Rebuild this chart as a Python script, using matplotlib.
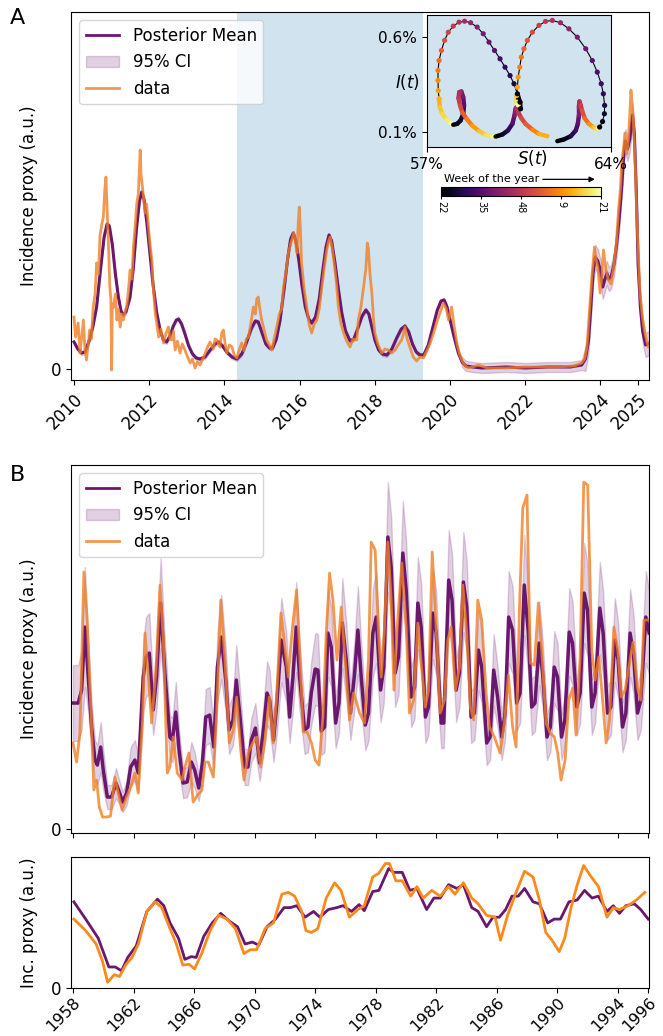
import numpy as np
import matplotlib
matplotlib.use('Agg')
import matplotlib.pyplot as plt
from matplotlib.collections import LineCollection
from matplotlib.lines import Line2D
from matplotlib.colors import Normalize
from matplotlib.cm import ScalarMappable

# ---------------- Panel A (2010-2025), (year, value a.u.) ----------------
mean_a = [
    (2010.0, 0.27), (2010.1, 0.20), (2010.2, 0.16), (2010.29, 0.17), (2010.4, 0.28), (2010.5, 0.42),
    (2010.6, 0.62), (2010.7, 0.98), (2010.8, 1.32), (2010.88, 1.45), (2010.94, 1.43), (2011.02, 1.24),
    (2011.1, 0.95), (2011.18, 0.72), (2011.25, 0.58), (2011.31, 0.54), (2011.38, 0.57), (2011.49, 0.72),
    (2011.58, 1.02), (2011.66, 1.40), (2011.74, 1.68), (2011.80, 1.77), (2011.86, 1.70), (2011.94, 1.45),
    (2012.02, 1.15), (2012.1, 0.85), (2012.2, 0.56), (2012.3, 0.37), (2012.38, 0.29), (2012.46, 0.27),
    (2012.55, 0.33), (2012.64, 0.43), (2012.72, 0.49), (2012.78, 0.50), (2012.86, 0.45), (2012.95, 0.35),
    (2013.05, 0.23), (2013.15, 0.15), (2013.25, 0.11), (2013.35, 0.10), (2013.48, 0.12), (2013.62, 0.19),
    (2013.75, 0.25), (2013.84, 0.27), (2013.95, 0.23), (2014.06, 0.17), (2014.2, 0.12), (2014.33, 0.10),
    (2014.46, 0.15), (2014.59, 0.27), (2014.72, 0.41), (2014.82, 0.48), (2014.9, 0.47), (2015.0, 0.36),
    (2015.1, 0.25), (2015.2, 0.21), (2015.28, 0.21), (2015.38, 0.30), (2015.48, 0.49), (2015.58, 0.78),
    (2015.68, 1.10), (2015.76, 1.30), (2015.83, 1.36), (2015.9, 1.28), (2015.98, 1.08), (2016.06, 0.84),
    (2016.15, 0.62), (2016.24, 0.50), (2016.32, 0.46), (2016.42, 0.52), (2016.52, 0.70), (2016.62, 1.00),
    (2016.7, 1.22), (2016.78, 1.34), (2016.85, 1.28), (2016.94, 1.06), (2017.03, 0.80), (2017.12, 0.56),
    (2017.22, 0.38), (2017.34, 0.28), (2017.44, 0.30), (2017.56, 0.42), (2017.66, 0.53), (2017.76, 0.59),
    (2017.84, 0.55), (2017.92, 0.42), (2018.0, 0.29), (2018.1, 0.19), (2018.2, 0.15), (2018.32, 0.14),
    (2018.45, 0.20), (2018.58, 0.31), (2018.7, 0.40), (2018.8, 0.43), (2018.9, 0.37), (2019.0, 0.25),
    (2019.1, 0.17), (2019.2, 0.14), (2019.3, 0.14), (2019.42, 0.24), (2019.55, 0.43), (2019.66, 0.59),
    (2019.76, 0.68), (2019.84, 0.69), (2019.92, 0.62), (2020.0, 0.49), (2020.1, 0.33), (2020.22, 0.16),
    (2020.32, 0.07), (2020.42, 0.03), (2020.6, 0.02), (2020.84, 0.01), (2021.5, 0.02), (2022.0, 0.01),
    (2022.6, 0.02), (2023.2, 0.02), (2023.5, 0.04), (2023.6, 0.10), (2023.68, 0.28), (2023.74, 0.60),
    (2023.8, 0.95), (2023.86, 1.12), (2023.93, 1.08), (2024.0, 0.98), (2024.06, 0.82), (2024.12, 0.90),
    (2024.17, 0.96), (2024.22, 0.90), (2024.28, 0.92), (2024.36, 1.05), (2024.43, 1.25), (2024.5, 1.52),
    (2024.56, 1.80), (2024.62, 2.15), (2024.66, 2.28), (2024.72, 2.20), (2024.78, 2.30), (2024.85, 2.54),
    (2024.9, 2.35), (2024.95, 1.80), (2025.0, 1.05), (2025.06, 0.62), (2025.12, 0.38), (2025.2, 0.24),
    (2025.3, 0.26),
]
data_a = [
    (2010.0, 0.52), (2010.04, 0.32), (2010.08, 0.40), (2010.11, 0.46), (2010.16, 0.16), (2010.2, 0.30),
    (2010.25, 0.49), (2010.29, 0.20), (2010.33, 0.09), (2010.38, 0.25), (2010.42, 0.39), (2010.46, 0.30),
    (2010.51, 0.62), (2010.56, 0.75), (2010.6, 1.06), (2010.65, 0.95), (2010.69, 1.33), (2010.74, 1.45),
    (2010.78, 1.52), (2010.82, 1.80), (2010.85, 1.92), (2010.88, 1.60), (2010.9, 1.39), (2010.93, 1.10),
    (2010.95, 0.83), (2010.98, 0.70), (2011.0, -0.01), (2011.02, 0.65), (2011.05, 0.62), (2011.1, 0.75),
    (2011.14, 0.49), (2011.18, 0.60), (2011.23, 0.42), (2011.27, 0.55), (2011.31, 0.49), (2011.36, 0.58),
    (2011.4, 0.62), (2011.45, 0.80), (2011.49, 0.99), (2011.54, 0.90), (2011.58, 1.22), (2011.62, 1.40),
    (2011.67, 1.66), (2011.71, 1.75), (2011.76, 2.19), (2011.78, 1.95), (2011.8, 1.89), (2011.84, 1.75),
    (2011.89, 1.56), (2011.93, 1.65), (2011.98, 1.42), (2012.02, 1.25), (2012.07, 1.09), (2012.11, 0.80),
    (2012.16, 0.56), (2012.2, 0.45), (2012.25, 0.32), (2012.31, 0.40), (2012.38, 0.26), (2012.44, 0.35),
    (2012.51, 0.42), (2012.55, 0.30), (2012.6, 0.29), (2012.64, 0.38), (2012.69, 0.19), (2012.75, 0.28),
    (2012.82, 0.16), (2012.88, 0.25), (2012.95, 0.19), (2013.02, 0.12), (2013.09, 0.06), (2013.15, 0.10),
    (2013.22, 0.01), (2013.28, 0.07), (2013.35, 0.04), (2013.42, 0.10), (2013.49, 0.16), (2013.55, 0.22),
    (2013.62, 0.27), (2013.7, 0.20), (2013.75, 0.30), (2013.8, 0.29), (2013.88, 0.22), (2013.93, 0.36),
    (2013.97, 0.39), (2014.02, 0.25), (2014.06, 0.16), (2014.13, 0.24), (2014.2, 0.22), (2014.26, 0.14),
    (2014.33, 0.11), (2014.4, 0.20), (2014.46, 0.26), (2014.52, 0.18), (2014.58, 0.30), (2014.64, 0.32),
    (2014.7, 0.45), (2014.77, 0.62), (2014.82, 0.55), (2014.86, 0.70), (2014.9, 0.72), (2014.95, 0.58),
    (2014.99, 0.49), (2015.05, 0.40), (2015.12, 0.29), (2015.18, 0.25), (2015.26, 0.19), (2015.32, 0.30),
    (2015.39, 0.42), (2015.46, 0.55), (2015.52, 0.60), (2015.57, 0.82), (2015.63, 0.95), (2015.7, 1.16),
    (2015.76, 1.25), (2015.84, 1.36), (2015.88, 1.30), (2015.93, 1.16), (2015.96, 1.45), (2015.99, 1.62),
    (2016.02, 1.40), (2016.05, 1.06), (2016.12, 0.80), (2016.19, 0.62), (2016.25, 0.45), (2016.32, 0.36),
    (2016.39, 0.45), (2016.46, 0.49), (2016.52, 0.60), (2016.59, 0.82), (2016.65, 1.00), (2016.72, 1.19),
    (2016.77, 1.28), (2016.81, 1.32), (2016.87, 1.20), (2016.94, 0.99), (2016.98, 0.85), (2017.03, 0.62),
    (2017.1, 0.45), (2017.17, 0.36), (2017.25, 0.28), (2017.34, 0.22), (2017.42, 0.30), (2017.52, 0.29),
    (2017.56, 0.49), (2017.63, 0.62), (2017.7, 0.82), (2017.76, 1.00), (2017.8, 1.26), (2017.83, 1.20),
    (2017.87, 0.95), (2017.92, 0.76), (2017.96, 0.52), (2018.0, 0.36), (2018.08, 0.25), (2018.18, 0.16),
    (2018.27, 0.20), (2018.36, 0.19), (2018.45, 0.16), (2018.54, 0.19), (2018.62, 0.24), (2018.71, 0.29),
    (2018.76, 0.35), (2018.8, 0.42), (2018.86, 0.30), (2018.93, 0.22), (2019.02, 0.12), (2019.11, 0.08),
    (2019.2, 0.12), (2019.29, 0.11), (2019.38, 0.18), (2019.47, 0.26), (2019.56, 0.36), (2019.64, 0.46),
    (2019.72, 0.55), (2019.82, 0.66), (2019.9, 0.60), (2019.96, 0.49), (2020.0, 0.55), (2020.04, 0.62),
    (2020.1, 0.45), (2020.18, 0.26), (2020.25, 0.15), (2020.31, 0.09), (2020.4, 0.03), (2020.49, 0.01),
    (2020.76, 0.04), (2021.0, 0.01), (2021.47, 0.01), (2022.0, 0.02), (2022.8, 0.02), (2023.3, 0.03),
    (2023.5, 0.06), (2023.58, 0.10), (2023.64, 0.22), (2023.7, 0.55), (2023.77, 0.92), (2023.84, 1.22),
    (2023.88, 1.10), (2023.93, 1.02), (2023.99, 0.76), (2024.04, 0.95), (2024.08, 1.19), (2024.14, 1.00),
    (2024.21, 0.89), (2024.28, 0.85), (2024.35, 1.02), (2024.42, 1.25), (2024.48, 1.59), (2024.53, 1.80),
    (2024.57, 2.09), (2024.61, 2.20), (2024.65, 2.36), (2024.7, 2.15), (2024.74, 2.29), (2024.78, 2.55),
    (2024.81, 2.79), (2024.85, 2.60), (2024.88, 2.42), (2024.92, 2.10), (2024.96, 1.59), (2025.0, 1.20),
    (2025.05, 0.76), (2025.12, 0.50), (2025.18, 0.36), (2025.27, 0.22), (2025.3, 0.25),
]
# 95% CI half width, per period (period end year, half width)
ci_a_periods = [(2020.3, 0.02), (2023.55, 0.05), (2026.0, 0.12)]
shaded_a = (2014.33, 2019.28)
years_a = [2010, 2012, 2014, 2016, 2018, 2020, 2022, 2024, 2025]

# ---------------- inset: (S %, I %, week of year) ----------------
traj_b = [
    (61.96, 0.051, 22), (62.21, 0.060, 25), (62.47, 0.077, 29), (62.66, 0.107, 33), (62.74, 0.142, 36),
    (62.78, 0.186, 40), (62.78, 0.230, 44), (62.80, 0.260, 47), (62.85, 0.239, 50), (62.90, 0.212, 1),
    (63.00, 0.172, 5), (63.16, 0.142, 10), (63.33, 0.125, 15), (63.45, 0.116, 19), (63.53, 0.118, 21),
]
loop_r = [
    (63.57, 0.125, 22), (63.68, 0.154, 24), (63.75, 0.195, 26), (63.76, 0.239, 28), (63.71, 0.300, 30),
    (63.63, 0.353, 32), (63.48, 0.414, 34), (63.29, 0.475, 36), (63.04, 0.537, 38), (62.72, 0.598, 40),
    (62.40, 0.642, 42), (62.08, 0.674, 44), (61.77, 0.686, 46), (61.51, 0.681, 48), (61.26, 0.660, 50),
    (61.01, 0.624, 52), (60.82, 0.581, 2), (60.69, 0.537, 4), (60.59, 0.493, 6), (60.53, 0.440, 8),
    (60.47, 0.388, 10), (60.44, 0.335, 12), (60.41, 0.291, 15), (60.42, 0.256, 18), (60.47, 0.242, 21),
]
loop_l = [
    (60.56, 0.221, 22), (60.54, 0.256, 23), (60.44, 0.300, 25), (60.31, 0.353, 27), (60.16, 0.396, 29),
    (59.97, 0.440, 31), (59.78, 0.484, 33), (59.57, 0.528, 35), (59.36, 0.572, 37), (59.14, 0.616, 39),
    (58.91, 0.651, 41), (58.66, 0.674, 43), (58.43, 0.682, 45), (58.22, 0.677, 47), (58.00, 0.656, 49),
    (57.81, 0.624, 51), (57.67, 0.581, 1), (57.55, 0.528, 3), (57.46, 0.475, 5), (57.42, 0.423, 7),
    (57.42, 0.370, 9), (57.43, 0.317, 11), (57.46, 0.274, 13), (57.49, 0.230, 15), (57.58, 0.195, 17),
    (57.75, 0.165, 19), (57.90, 0.146, 21),
]
traj_a = [
    (58.00, 0.137, 22), (58.15, 0.142, 24), (58.28, 0.160, 27), (58.38, 0.195, 31), (58.41, 0.239, 35),
    (58.38, 0.282, 39), (58.31, 0.312, 43), (58.23, 0.309, 46), (58.20, 0.277, 49), (58.26, 0.239, 52),
    (58.34, 0.203, 3), (58.51, 0.168, 7), (58.72, 0.133, 11), (58.98, 0.104, 15), (59.23, 0.084, 18),
    (59.49, 0.077, 21), (59.61, 0.075, 22), (59.87, 0.086, 26), (60.08, 0.107, 30), (60.25, 0.142, 35),
    (60.33, 0.186, 40), (60.37, 0.221, 44), (60.41, 0.230, 46), (60.47, 0.203, 49), (60.59, 0.172, 52),
    (60.75, 0.142, 3), (61.01, 0.112, 8), (61.26, 0.089, 13), (61.58, 0.077, 19),
]
week_start = 22
cbar_ticks = [0, 13, 26, 39, 52]
cbar_labels = ['22', '35', '48', '9', '21']

# ---------------- Panel B (1958-1996), (year, mean, CI half width) ----------------
mean_b = [
    (1958.0, 1.26, 0.38), (1958.35, 1.26, 0.38), (1958.57, 1.39, 0.40), (1958.79, 2.02, 0.60),
    (1959.01, 1.52, 0.35), (1959.23, 1.02, 0.25), (1959.45, 0.69, 0.20), (1959.61, 0.64, 0.20),
    (1959.83, 0.82, 0.25), (1960.0, 0.59, 0.20), (1960.27, 0.32, 0.12), (1960.55, 0.32, 0.12),
    (1960.84, 0.46, 0.15), (1961.06, 0.37, 0.12), (1961.28, 0.27, 0.10), (1961.54, 0.36, 0.12),
    (1961.81, 0.62, 0.20), (1962.09, 0.69, 0.20), (1962.31, 0.56, 0.18), (1962.64, 1.52, 0.35),
    (1962.82, 1.72, 0.40), (1963.04, 1.76, 0.40), (1963.3, 1.19, 0.25), (1963.52, 1.52, 0.32),
    (1963.79, 2.26, 0.45), (1964.07, 1.56, 0.32), (1964.4, 0.92, 0.22), (1964.57, 0.89, 0.22),
    (1964.79, 1.17, 0.30), (1965.01, 0.79, 0.20), (1965.27, 0.46, 0.15), (1965.54, 0.47, 0.15),
    (1965.82, 0.67, 0.20), (1966.04, 0.59, 0.18), (1966.31, 0.41, 0.13), (1966.55, 0.66, 0.18),
    (1966.77, 1.12, 0.28), (1967.03, 1.14, 0.28), (1967.3, 0.82, 0.22), (1967.54, 1.62, 0.35),
    (1967.8, 1.92, 0.42), (1968.09, 1.49, 0.32), (1968.31, 0.99, 0.24), (1968.57, 1.09, 0.25),
    (1968.79, 1.49, 0.35), (1969.01, 1.16, 0.28), (1969.34, 0.62, 0.18), (1969.56, 0.62, 0.18),
    (1969.78, 0.89, 0.22), (1970.05, 1.01, 0.25), (1970.33, 0.66, 0.18), (1970.6, 1.02, 0.25),
    (1970.82, 1.36, 0.32), (1970.99, 1.29, 0.30), (1971.25, 0.89, 0.22), (1971.47, 1.26, 0.30),
    (1971.76, 1.89, 0.42), (1972.09, 1.62, 0.35), (1972.31, 1.12, 0.26), (1972.53, 1.52, 0.34),
    (1972.75, 2.02, 0.45), (1972.97, 1.52, 0.34), (1973.3, 0.99, 0.24), (1973.52, 1.02, 0.25),
    (1973.74, 1.36, 0.32), (1974.0, 1.60, 0.36), (1974.18, 1.59, 0.36), (1974.4, 0.98, 0.24),
    (1974.62, 1.02, 0.25), (1974.84, 1.96, 0.44), (1975.06, 1.82, 0.40), (1975.35, 1.06, 0.25),
    (1975.57, 1.26, 0.30), (1975.79, 2.06, 0.45), (1976.05, 1.69, 0.38), (1976.33, 1.16, 0.27),
    (1976.6, 1.55, 0.34), (1976.82, 1.99, 0.44), (1977.04, 1.52, 0.34), (1977.31, 1.04, 0.25),
    (1977.52, 1.16, 0.28), (1977.81, 1.96, 0.44), (1978.03, 2.12, 0.46), (1978.32, 1.39, 0.32),
    (1978.53, 1.62, 0.36), (1978.8, 2.92, 0.55), (1979.02, 2.62, 0.50), (1979.28, 1.56, 0.34),
    (1979.5, 1.72, 0.38), (1979.79, 2.76, 0.52), (1980.01, 2.39, 0.48), (1980.34, 1.32, 0.30),
    (1980.56, 1.42, 0.32), (1980.78, 2.26, 0.46), (1981.0, 2.02, 0.44), (1981.28, 1.12, 0.26),
    (1981.48, 1.22, 0.28), (1981.77, 2.16, 0.46), (1981.99, 1.96, 0.42), (1982.32, 1.06, 0.25),
    (1982.49, 1.06, 0.25), (1982.82, 2.49, 0.50), (1983.04, 2.29, 0.46), (1983.31, 1.39, 0.32),
    (1983.53, 1.56, 0.34), (1983.79, 2.47, 0.50), (1984.01, 2.22, 0.46), (1984.3, 1.12, 0.26),
    (1984.52, 1.16, 0.27), (1984.78, 1.79, 0.40), (1985.0, 1.62, 0.36), (1985.33, 0.86, 0.22),
    (1985.55, 0.92, 0.23), (1985.79, 1.59, 0.36), (1986.05, 1.32, 0.30), (1986.32, 0.92, 0.23),
    (1986.54, 1.16, 0.27), (1986.78, 2.12, 0.46), (1987.04, 1.99, 0.44), (1987.31, 1.26, 0.28),
    (1987.53, 1.36, 0.30), (1987.81, 2.44, 0.50), (1988.08, 1.96, 0.42), (1988.3, 1.22, 0.28),
    (1988.52, 1.26, 0.28), (1988.8, 1.86, 0.42), (1989.02, 1.56, 0.34), (1989.31, 0.92, 0.23),
    (1989.53, 1.02, 0.25), (1989.79, 1.62, 0.36), (1990.01, 1.52, 0.34), (1990.27, 0.92, 0.23),
    (1990.49, 1.09, 0.26), (1990.78, 1.97, 0.44), (1991.0, 1.86, 0.42), (1991.28, 1.22, 0.28),
    (1991.5, 1.36, 0.30), (1991.77, 2.36, 0.50), (1991.99, 2.19, 0.46), (1992.27, 1.22, 0.28),
    (1992.49, 1.36, 0.30), (1992.8, 2.21, 0.46), (1993.02, 1.96, 0.42), (1993.31, 1.16, 0.27),
    (1993.53, 1.22, 0.28), (1993.79, 1.89, 0.42), (1994.01, 1.69, 0.38), (1994.3, 1.02, 0.25),
    (1994.52, 1.16, 0.27), (1994.8, 1.96, 0.44), (1995.02, 1.76, 0.40), (1995.29, 1.16, 0.27),
    (1995.51, 1.29, 0.30), (1995.84, 2.12, 0.46), (1996.06, 1.96, 0.42),
]
data_b = [
    (1958.0, 0.86), (1958.24, 0.67), (1958.46, 0.96), (1958.72, 2.57), (1958.94, 2.09), (1959.16, 1.29),
    (1959.38, 0.39), (1959.56, 0.49), (1959.74, 0.22), (1959.96, 0.12), (1960.22, 0.12), (1960.48, 0.13),
    (1960.77, 0.52), (1960.99, 0.36), (1961.25, 0.19), (1961.54, 0.32), (1961.81, 0.42), (1962.09, 0.56),
    (1962.31, 0.36), (1962.6, 1.09), (1962.76, 1.96), (1962.98, 1.52), (1963.2, 1.06), (1963.48, 1.59),
    (1963.75, 2.44), (1963.97, 1.89), (1964.23, 0.56), (1964.4, 0.62), (1964.62, 0.92), (1964.89, 0.56),
    (1965.22, 0.49), (1965.39, 0.62), (1965.66, 0.76), (1965.94, 0.27), (1966.23, 0.34), (1966.52, 0.39),
    (1966.72, 0.67), (1966.94, 0.67), (1967.27, 0.52), (1967.49, 1.16), (1967.76, 2.29), (1968.04, 1.69),
    (1968.33, 0.86), (1968.59, 0.99), (1968.81, 1.32), (1969.08, 0.79), (1969.3, 0.49), (1969.58, 0.76),
    (1969.87, 0.86), (1970.13, 0.92), (1970.4, 0.62), (1970.68, 0.89), (1970.97, 1.32), (1971.23, 0.86),
    (1971.45, 1.32), (1971.74, 2.16), (1972.0, 1.82), (1972.22, 1.52), (1972.5, 2.02), (1972.77, 2.39),
    (1972.99, 1.72), (1973.21, 0.97), (1973.47, 0.97), (1973.76, 0.86), (1974.0, 0.69), (1974.25, 0.64),
    (1974.51, 1.12), (1974.73, 1.96), (1974.95, 2.56), (1975.17, 2.29), (1975.44, 1.69), (1975.72, 2.22),
    (1976.01, 1.62), (1976.27, 1.09), (1976.53, 1.36), (1976.75, 1.26), (1976.93, 1.16), (1977.26, 1.06),
    (1977.52, 1.69), (1977.7, 2.87), (1977.96, 2.79), (1978.18, 1.96), (1978.36, 1.52), (1978.58, 2.02),
    (1978.8, 2.87), (1979.02, 2.29), (1979.2, 1.39), (1979.42, 2.02), (1979.72, 2.66), (1980.01, 2.02),
    (1980.23, 1.16), (1980.51, 1.29), (1980.78, 2.06), (1981.0, 1.66), (1981.27, 1.22), (1981.49, 1.39),
    (1981.73, 2.77), (1981.99, 2.02), (1982.25, 1.16), (1982.54, 1.29), (1982.76, 1.89), (1982.98, 2.02),
    (1983.26, 1.39), (1983.53, 1.62), (1983.75, 2.44), (1984.01, 1.96), (1984.25, 1.22), (1984.47, 1.09),
    (1984.74, 2.29), (1985.0, 2.09), (1985.29, 1.36), (1985.51, 1.02), (1985.84, 0.92), (1986.21, 0.76),
    (1986.5, 1.06), (1986.76, 1.54), (1987.04, 1.02), (1987.27, 0.82), (1987.49, 2.19), (1987.71, 3.21),
    (1987.99, 3.34), (1988.21, 1.66), (1988.48, 1.64), (1988.74, 2.26), (1988.96, 1.79), (1989.25, 1.06),
    (1989.53, 0.96), (1989.8, 0.92), (1990.02, 0.76), (1990.24, 0.49), (1990.51, 0.69), (1990.75, 1.29),
    (1991.01, 1.41), (1991.23, 0.94), (1991.5, 1.72), (1991.74, 3.47), (1992.0, 3.44), (1992.27, 1.79),
    (1992.49, 1.49), (1992.73, 1.72), (1992.95, 1.36), (1993.22, 0.86), (1993.44, 1.09), (1993.73, 2.02),
    (1993.99, 1.79), (1994.21, 1.32), (1994.47, 1.39), (1994.76, 1.66), (1995.0, 1.87), (1995.28, 1.42),
    (1995.5, 1.29), (1995.72, 2.09), (1995.99, 2.09),
]

# ---------------- bottom panel: smoothed incidence proxy ----------------
smooth_mean = [
    (1958.06, 2.25), (1958.84, 1.80), (1959.67, 1.30), (1960.37, 0.55), (1960.79, 0.55), (1961.21, 0.45),
    (1961.62, 0.80), (1962.18, 1.10), (1962.88, 2.00), (1963.58, 2.32), (1964.0, 2.15), (1964.41, 1.70),
    (1964.97, 1.30), (1965.39, 0.75), (1965.81, 0.82), (1966.14, 0.80), (1966.64, 1.35), (1967.2, 1.70),
    (1967.76, 1.95), (1968.32, 1.75), (1968.87, 1.60), (1969.37, 1.15), (1969.85, 1.20), (1970.27, 1.12),
    (1970.82, 1.60), (1971.38, 1.80), (1971.94, 2.10), (1972.36, 2.10), (1972.78, 2.15), (1973.33, 1.85),
    (1973.89, 2.00), (1974.31, 1.85), (1974.87, 2.05), (1975.42, 2.10), (1975.84, 2.15), (1976.4, 2.00),
    (1976.9, 2.18), (1977.24, 2.02), (1977.8, 2.52), (1978.21, 2.55), (1978.85, 3.12), (1979.19, 3.02),
    (1979.75, 3.02), (1980.25, 2.55), (1980.72, 2.60), (1981.36, 2.05), (1981.84, 2.35), (1982.25, 2.35),
    (1982.81, 2.70), (1983.37, 2.60), (1983.79, 2.70), (1984.34, 2.10), (1984.76, 2.00), (1985.32, 1.60),
    (1985.74, 1.85), (1986.16, 1.85), (1986.58, 2.05), (1987.0, 2.40), (1987.41, 2.40), (1987.83, 2.60),
    (1988.39, 2.25), (1988.81, 2.20), (1989.36, 1.70), (1989.78, 1.80), (1990.2, 1.80), (1990.76, 2.25),
    (1991.31, 2.30), (1991.79, 2.55), (1992.29, 2.35), (1992.71, 2.40), (1993.27, 2.00), (1993.69, 2.15),
    (1994.1, 1.95), (1994.52, 2.15), (1995.08, 2.20), (1995.5, 2.05), (1996.0, 1.80),
]
smooth_data = [
    (1958.06, 1.80), (1958.84, 1.50), (1959.53, 1.15), (1959.95, 0.70), (1960.29, 0.15), (1960.73, 0.35),
    (1961.07, 0.30), (1961.48, 0.60), (1961.9, 0.80), (1962.32, 1.15), (1962.88, 2.00), (1963.44, 2.25),
    (1963.86, 2.10), (1964.41, 1.55), (1964.83, 1.15), (1965.25, 0.60), (1965.67, 0.62), (1966.03, 0.50),
    (1966.5, 0.90), (1967.06, 1.50), (1967.62, 1.90), (1968.18, 1.80), (1968.73, 1.55), (1969.29, 0.90),
    (1969.71, 1.00), (1970.13, 1.00), (1970.69, 1.55), (1971.24, 1.70), (1971.8, 2.45), (1972.22, 2.50),
    (1972.64, 2.40), (1973.11, 2.00), (1973.39, 1.50), (1973.75, 1.45), (1974.17, 1.55), (1974.73, 2.35),
    (1975.28, 2.75), (1975.7, 2.55), (1976.26, 1.85), (1976.82, 2.05), (1977.24, 2.15), (1977.8, 2.90),
    (1978.21, 3.00), (1978.63, 3.25), (1978.91, 3.25), (1979.33, 2.80), (1979.75, 2.80), (1980.31, 2.40),
    (1980.72, 2.65), (1981.14, 2.35), (1981.7, 2.55), (1982.25, 2.40), (1982.81, 2.65), (1983.23, 2.45),
    (1983.79, 2.75), (1984.34, 2.35), (1984.76, 2.20), (1985.32, 1.90), (1985.88, 1.85), (1986.24, 1.25),
    (1986.71, 1.90), (1987.27, 2.50), (1987.83, 3.05), (1988.39, 2.90), (1988.81, 2.30), (1989.23, 1.45),
    (1989.64, 1.25), (1990.12, 0.95), (1990.48, 1.30), (1990.9, 2.10), (1991.31, 2.70), (1991.73, 3.20),
    (1992.15, 2.95), (1992.71, 2.65), (1993.27, 1.85), (1993.69, 2.10), (1994.1, 2.05), (1994.66, 2.15),
    (1995.22, 2.30), (1995.78, 2.50),
]
years_b = [1958, 1962, 1966, 1970, 1974, 1978, 1982, 1986, 1990, 1994, 1996]

purple = '#6a176e'
orange = '#f07f25'
orange_c = '#fb8a1d'
blue_bg = (0.122, 0.467, 0.706, 0.2)

fig = plt.figure(figsize=(6.63, 10.36), dpi=100)

# ---------------- Panel A ----------------
axA = fig.add_axes([0.1071, 0.6332, 0.8718, 0.3552])
ta, ma = np.array(mean_a).T
tda, da = np.array(data_a).T
half_a = np.array([next(h for lim, h in ci_a_periods if t < lim) for t in ta])

axA.axvspan(*shaded_a, color='tab:blue', alpha=0.2, lw=0)
ci_A = axA.fill_between(ta, ma - half_a, ma + half_a, color=purple, alpha=0.2)
axA.plot(ta, ma, color=purple, lw=2.2)
axA.plot(tda, da, color=orange, lw=2, alpha=0.8)
axA.set_xlim(2009.92, 2025.29)
axA.set_ylim(-0.11, 3.57)
axA.set_yticks([0])
axA.set_xticks(years_a)
axA.set_xticklabels([str(y) for y in years_a])
plt.setp(axA.get_xticklabels(), rotation=45, ha='right', rotation_mode='anchor')
axA.tick_params(labelsize=12)
axA.set_ylabel('Incidence proxy (a.u.)', fontsize=12, va='center')
axA.yaxis.set_label_coords(-0.072, 0.5)

handles = [Line2D([], [], color=purple, lw=2), ci_A, Line2D([], [], color=orange, lw=2, alpha=0.8)]
labels = ['Posterior Mean', '95% CI', 'data']
axA.legend(handles, labels, loc='upper left', fontsize=12)

# ---------------- inset ----------------
axI = fig.add_axes([0.644, 0.858, 0.2775, 0.1274])
axI.set_facecolor(blue_bg)
cmap = plt.get_cmap('inferno')
def wk_col(rows):
    return [cmap(((r[2] - week_start) % 52) / 52) for r in rows]

def thick(rows):
    pts = np.array([(r[0], r[1]) for r in rows])
    segs = np.stack([pts[:-1], pts[1:]], axis=1)
    lc = LineCollection(segs, colors=wk_col(rows[:-1]), linewidths=3.2, capstyle='round', zorder=2)
    axI.add_collection(lc)

dotted = loop_r + loop_l[:23]
dS, dI = np.array([(r[0], r[1]) for r in dotted]).T
axI.plot(dS, dI, color='k', lw=0.8, zorder=3)
axI.scatter(dS, dI, c=wk_col(dotted), s=14, zorder=4, linewidths=0)
thick(traj_b + loop_r[:1])
thick(loop_r[-3:] + loop_l[:3])
thick(loop_l[22:] + traj_a)

axI.set_xlim(57, 64)
axI.set_ylim(0.0195, 0.714)
axI.set_xticks([57, 64])
axI.set_xticklabels(['57%', '64%'])
axI.set_yticks([0.1, 0.6])
axI.set_yticklabels(['0.1%', '0.6%'])
axI.tick_params(labelsize=11)
axI.set_xlabel('$S(t)$', fontsize=12, va='center')
axI.xaxis.set_label_coords(0.57, -0.083)
axI.set_ylabel('$I(t)$', fontsize=12, rotation=0, va='center', ha='center')
axI.yaxis.set_label_coords(-0.105, 0.49)

cax = fig.add_axes([0.665, 0.8108, 0.2413, 0.0087])
sm = ScalarMappable(norm=Normalize(0, 52), cmap=cmap)
cb = fig.colorbar(sm, cax=cax, orientation='horizontal', ticks=cbar_ticks)
cb.ax.set_xticklabels(cbar_labels, rotation=270, fontsize=7)
cb.ax.tick_params(length=2, pad=1.5)
cax.text(0.02, 1.85, 'Week of the year', transform=cax.transAxes, fontsize=8, va='center')
cax.annotate('', xy=(0.98, 1.85), xytext=(0.62, 1.85), xycoords='axes fraction',
             arrowprops=dict(arrowstyle='-|>', color='k', lw=0.9, mutation_scale=8))

# ---------------- Panel B ----------------
axB = fig.add_axes([0.1071, 0.1959, 0.8718, 0.3552])
tb, mb, hb = np.array(mean_b).T
tdb, db = np.array(data_b).T
ci_B = axB.fill_between(tb, mb - hb, mb + hb, color=purple, alpha=0.2)
axB.plot(tb, mb, color=purple, lw=2.5)
axB.plot(tdb, db, color=orange, lw=2, alpha=0.8)
axB.set_xlim(1957.87, 1996.05)
axB.set_ylim(-0.04, 3.64)
axB.set_yticks([0])
axB.set_xticks(years_b)
axB.set_xticklabels([])
axB.tick_params(labelsize=12)
axB.set_ylabel('Incidence proxy (a.u.)', fontsize=12, va='center')
axB.yaxis.set_label_coords(-0.072, 0.5)
handles_b = [Line2D([], [], color=purple, lw=2), ci_B, Line2D([], [], color=orange, lw=2, alpha=0.8)]
axB.legend(handles_b, labels, loc='upper left', fontsize=12)

# ---------------- bottom panel ----------------
axC = fig.add_axes([0.1071, 0.0463, 0.8718, 0.1264])
tc, mc = np.array(smooth_mean).T
tdc, dc = np.array(smooth_data).T
axC.plot(tc, mc, color=purple, lw=2)
axC.plot(tdc, dc, color=orange_c, lw=2)
axC.set_xlim(1957.87, 1996.05)
axC.set_ylim(0, 3.42)
axC.set_yticks([0])
axC.set_xticks(years_b)
axC.set_xticklabels([str(y) for y in years_b])
plt.setp(axC.get_xticklabels(), rotation=45, ha='right', rotation_mode='anchor')
axC.tick_params(labelsize=12)
axC.tick_params(axis='x', pad=1.5, labelsize=11.5)
axC.set_ylabel('Inc. proxy (a.u.)', fontsize=12, va='center')
axC.yaxis.set_label_coords(-0.072, 0.5)

fig.text(0.015, 0.9826, 'A', fontsize=16, va='center')
fig.text(0.015, 0.5415, 'B', fontsize=16, va='center')

fig.savefig('out.png', dpi=100)
